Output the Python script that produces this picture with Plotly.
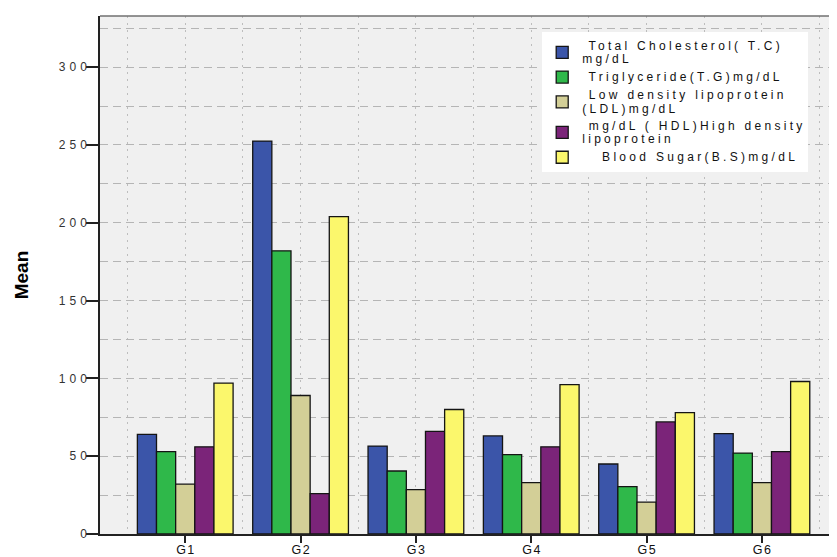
import plotly.graph_objects as go

categories = ["G1", "G2", "G3", "G4", "G5", "G6"]
series_names = [
    ["Total Cholesterol( T.C)", "mg/dL"],
    ["Triglyceride(T.G)mg/dL"],
    ["Low density lipoprotein", "(LDL)mg/dL"],
    ["mg/dL ( HDL)High density", "lipoprotein"],
    ["  Blood Sugar(B.S)mg/dL"],
]
total_chol = [64, 252.5, 56.5, 63, 45, 64.5]
triglyceride = [53, 182, 40.5, 51, 30.5, 52]
ldl = [32, 89, 28.5, 33, 20.5, 33]
hdl = [56, 26, 66, 56, 72, 53]
blood_sugar = [97, 204, 80, 96, 78, 98]
y_ticks = [0, 50, 100, 150, 200, 250, 300]
colors = ["#3b55a9", "#2fb84a", "#d3cf97", "#7b2479", "#fbf76c"]

values = [total_chol, triglyceride, ldl, hdl, blood_sugar]
xpos = list(range(len(categories)))


def spaced(s, ls, size=None):
    # wide letter spacing like the reference's stretched text; last char unspaced
    fs = f"font-size:{size}px;" if size else ""
    if len(s) < 2:
        return f"<span style='{fs}'>{s}</span>" if size else s
    if size:
        return (f"<span style='{fs}letter-spacing:{ls}px'>{s[:-1]}</span>"
                f"<span style='{fs}'>{s[-1]}</span>")
    return f"<span style='letter-spacing:{ls}px'>{s[:-1]}</span>{s[-1]}"


def legend_label(lines):
    out = []
    for i, ln in enumerate(lines):
        prefix = " " if i == 0 else ""
        out.append(spaced(prefix + ln, 3.3, 12))
    return "<br>".join(out)


fig = go.Figure()
for name, vals, col in zip(series_names, values, colors):
    fig.add_trace(go.Bar(
        x=xpos, y=vals, name=legend_label(name),
        marker=dict(color=col, line=dict(color="#141414", width=1.3)),
    ))

FONT = "Liberation Sans, Arial, sans-serif"
fig.update_layout(
    width=829, height=549,
    barmode="group", bargap=0.17, bargroupgap=0,
    plot_bgcolor="#f0f0f0", paper_bgcolor="white",
    margin=dict(l=92, r=0, t=8, b=22.5),
    font=dict(family=FONT, size=12, color="#222"),
    showlegend=True,
    legend=dict(
        x=0.600, y=0.969, xanchor="left", yanchor="top",
        bgcolor="white", borderwidth=0,
        font=dict(size=10.6, family=FONT, color="#111"),
        tracegroupgap=0,
    ),
)
fig.update_xaxes(
    range=[-0.739, 5.651], automargin=False,
    tickmode="array", tickvals=xpos, ticktext=[spaced(c, 1.5) for c in categories],
    ticks="outside", ticklen=7, tickwidth=1.5, tickcolor="#222",
    ticklabelstandoff=-4,
    showline=True, linecolor="#222", linewidth=1.5,
    showgrid=True, gridcolor="#bdbdbd", griddash="2px,5px", gridwidth=1,
    minor=dict(tickmode="array", tickvals=[i - 0.5 for i in range(len(categories) + 1)],
               showgrid=True, gridcolor="#bdbdbd", griddash="2px,5px", gridwidth=1, ticks=""),
    zeroline=False,
    tickfont=dict(size=12.5, color="#111"),
)
fig.update_yaxes(
    range=[0, 332.9], automargin=False,
    tickmode="array", tickvals=y_ticks, ticktext=[spaced(str(v), 4) for v in y_ticks],
    ticks="outside", ticklen=12, tickwidth=1.5, tickcolor="#222",
    ticklabelstandoff=-3,
    showline=True, linecolor="#222", linewidth=1.5,
    showgrid=True, gridcolor="#b5b5b5", griddash="8px,5px", gridwidth=1,
    minor=dict(dtick=25, tick0=0, showgrid=True, gridcolor="#b5b5b5", griddash="8px,5px",
               gridwidth=1, ticks=""),
    zeroline=False,
    tickfont=dict(size=12, color="#333"),
    title=dict(text="<b>Mean</b>", font=dict(size=19, family=FONT, color="#000"), standoff=25),
)
fig.add_shape(type="line", xref="paper", yref="paper", x0=0, x1=1, y0=1, y1=1,
              line=dict(color="#707070", width=1.5))

fig.write_html("out.html")
